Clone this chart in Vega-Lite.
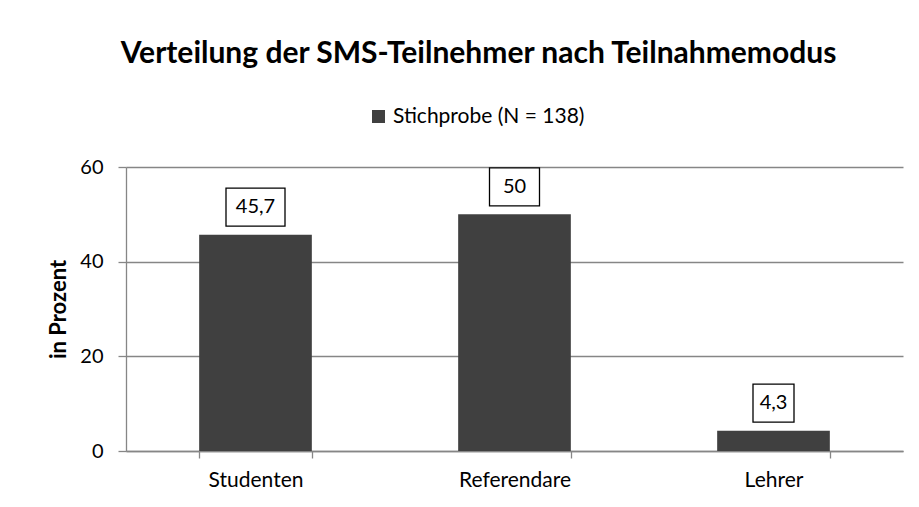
{
  "$schema": "https://vega.github.io/schema/vega-lite/v6.json",
  "autosize": "none",
  "width": 777,
  "height": 284,
  "padding": {"left": 126, "top": 167, "right": 16, "bottom": 56},
  "background": "white",
  "config": {
    "view": {"stroke": null},
    "font": "Lato",
    "locale": {"number": {"decimal": ",", "thousands": ".", "grouping": [3], "currency": ["", " €"]}}
  },
  "title": {
    "text": "Verteilung der SMS-Teilnehmer nach Teilnahmemodus",
    "font": "Lato",
    "fontSize": 30,
    "fontWeight": "bold",
    "color": "black",
    "anchor": "middle",
    "frame": "group",
    "dx": -36,
    "offset": 37
  },
  "data": {
    "values": [
      {"Kategorie": "Studenten", "Prozent": 45.7},
      {"Kategorie": "Referendare", "Prozent": 50},
      {"Kategorie": "Lehrer", "Prozent": 4.3}
    ]
  },
  "encoding": {
    "x": {
      "field": "Kategorie",
      "type": "nominal",
      "sort": null,
      "scale": {"paddingInner": 0.565, "paddingOuter": 0.2825},
      "axis": {
        "title": null,
        "labelAngle": 0,
        "labelFont": "Lato",
        "labelFontSize": 21,
        "labelColor": "black",
        "labelPadding": 11,
        "domainColor": "#868686",
        "domainWidth": 1.3,
        "tickColor": "#868686",
        "tickWidth": 1.3,
        "tickSize": 7,
        "tickBand": "extent",
        "grid": false
      }
    },
    "y": {
      "field": "Prozent",
      "type": "quantitative",
      "scale": {"domain": [0, 60], "nice": false},
      "axis": {
        "values": [0, 20, 40, 60],
        "title": "in Prozent",
        "titleFont": "Lato",
        "titleFontSize": 22,
        "titleFontWeight": "bold",
        "titleColor": "black",
        "titleX": -68,
        "titleY": 142,
        "titleAngle": -90,
        "titleAlign": "center",
        "titleBaseline": "middle",
        "labelFont": "Lato",
        "labelFontSize": 20,
        "labelColor": "black",
        "labelPadding": 15,
        "domainColor": "#868686",
        "domainWidth": 1.3,
        "tickColor": "#868686",
        "tickWidth": 1.3,
        "tickSize": 8,
        "gridColor": "#868686",
        "gridWidth": 1.3
      }
    }
  },
  "layer": [
    {
      "mark": {"type": "bar"},
      "encoding": {
        "color": {
          "datum": "Stichprobe (N = 138)",
          "scale": {"range": ["#404040"]},
          "legend": {
            "title": null,
            "orient": "none",
            "legendX": 242,
            "legendY": -61,
            "padding": 0,
            "symbolType": "square",
            "symbolSize": 169,
            "symbolStrokeWidth": 0,
            "labelFont": "Lato",
            "labelFontSize": 21,
            "labelColor": "black",
            "labelOffset": 4,
            "labelLimit": 0
          }
        }
      }
    },
    {
      "mark": {"type": "bar", "fill": "white", "stroke": "black", "strokeWidth": 1.3, "yOffset": -46.5, "y2Offset": -8.5},
      "encoding": {
        "y2": {"field": "Prozent"},
        "size": {
          "field": "Kategorie",
          "type": "ordinal",
          "scale": {"domain": ["Studenten", "Referendare", "Lehrer"], "range": [59, 41, 41]},
          "legend": null
        }
      }
    },
    {
      "mark": {"type": "text", "font": "Lato", "fontSize": 20, "color": "black", "baseline": "middle", "dy": -27.5},
      "encoding": {
        "text": {"field": "Prozent", "type": "quantitative", "format": "~r"}
      }
    }
  ]
}
